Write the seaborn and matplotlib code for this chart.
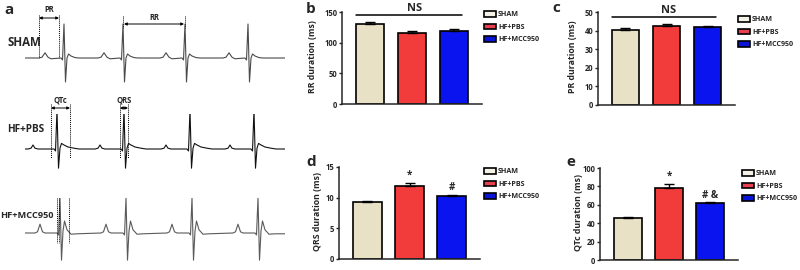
import numpy as np
import matplotlib
matplotlib.use("Agg")
import matplotlib.pyplot as plt
from matplotlib.patches import Patch
import seaborn as sns

# groups and colours
groups = ["SHAM", "HF+PBS", "HF+MCC950"]
bar_colors = ["#e8e1c6", "#f23c3c", "#0a14ee"]
legend_colors = ["#f4f1e6", "#e84050", "#0a14d8"]

# bar chart values (mean, SEM)
rr_mean = [130, 116, 119]
rr_err = [4, 3, 4]
pr_mean = [40.3, 42.5, 42.1]
pr_err = [0.9, 1.3, 0.5]
qrs_mean = [9.25, 11.9, 10.3]
qrs_err = [0.15, 0.5, 0.2]
qtc_mean = [45.5, 78.5, 61.6]
qtc_err = [1.5, 4.5, 1.0]
qrs_marks = ["", "*", "#"]
qtc_marks = ["", "*", "# &"]

# ECG traces: R-peak times (ms) and a beat shape (ms from R, mV)
sham_r = [78, 196, 320, 446]
sham_bt = [-50, -44, -38, -32, -26, -6, -3, 0, 3, 6, 9, 14, 22, 30]
sham_bv = [0, 0.02, 0.13, 0.02, -0.02, 0, -0.05, 0.85, -0.6, 0.0, 0.1, 0.05, 0.01, 0]

pbs_r = [64, 198, 330, 458]
pbs_bt = [-58, -52, -48, -44, -38, -6, -3, 0, 3, 6, 9, 14, 22, 34, 44]
pbs_bv = [0, 0.02, 0.1, 0.02, 0, 0, -0.05, 0.98, -0.48, 0.02, 0.14, 0.1, 0.05, 0.02, 0]

mcc_r = [70, 202, 334, 466]
mcc_bt = [-50, -45, -40, -35, -30, -6, -3, 0, 3, 6, 9, 14, 22, 34]
mcc_bv = [0, 0.03, 0.22, 0.03, 0, 0, -0.05, 0.88, -0.68, 0.05, 0.3, 0.08, -0.03, -0.02]

trace_end = 520

sns.set_style("ticks")
plt.rcParams["font.family"] = ["Open Sans", "DejaVu Sans"]
plt.rcParams["font.weight"] = "bold"

W, H = 800, 270
fig = plt.figure(figsize=(8, 2.7), dpi=100)


def px_rect(l, t, r, b):
    return [l / W, 1 - b / H, (r - l) / W, (b - t) / H]


# overlay for panel letters / row labels
ov = fig.add_axes([0, 0, 1, 1])
ov.set_xlim(0, W)
ov.set_ylim(H, 0)
ov.axis("off")
for s, x, y in [("a", 9, 10), ("b", 311, 9), ("c", 556, 8), ("d", 311, 162), ("e", 571, 162)]:
    ov.text(x, y, s, fontsize=11, fontweight="bold", ha="center", va="center")
ov.text(8, 42, "SHAM", fontsize=8.3, fontweight="bold", va="center")
ov.text(7, 130, "HF+PBS", fontsize=7.2, fontweight="bold", va="center")
ov.text(0, 216, "HF+MCC950", fontsize=6.6, fontweight="bold", va="center")


def build_trace(r_times, bt, bv):
    t = [0]
    v = [0]
    for r in r_times:
        t += [r + o for o in bt]
        v += list(bv)
    t.append(trace_end)
    v.append(v[-1])
    return t, v


def trace_axes(top, color, r_times, bt, bv):
    ax = fig.add_axes(px_rect(25, top, 285, top + 70))
    t, v = build_trace(r_times, bt, bv)
    sns.lineplot(x=t, y=v, ax=ax, color=color, lw=0.8, sort=False, estimator=None)
    ax.set_xlim(0, trace_end)
    ax.set_ylim(-0.875, 0.875)
    ax.axis("off")
    return ax


def vdots(ax, xs, y0, y1):
    for x in xs:
        ax.plot([x, x], [y0, y1], ls=(0, (1, 1)), color="black", lw=0.7, clip_on=False)


def harrow(ax, x0, x1, y, label, ly):
    ax.annotate("", xy=(x1, y), xytext=(x0, y),
                arrowprops=dict(arrowstyle="<|-|>", lw=0.7, mutation_scale=4,
                                color="black", shrinkA=0, shrinkB=0),
                annotation_clip=False)
    ax.text((x0 + x1) / 2, ly, label, fontsize=5.5, fontweight="bold",
            ha="center", va="center")


ax_s = trace_axes(23, "#4a4a4a", sham_r, sham_bt, sham_bv)
vdots(ax_s, [28, 68], 1.075, 0)
harrow(ax_s, 28, 68, 1.0, "PR", 1.2)
vdots(ax_s, [196, 320], 1.05, 0.75)
harrow(ax_s, 198, 318, 0.85, "RR", 1.02)

ax_p = trace_axes(114, "#111111", pbs_r, pbs_bt, pbs_bv)
vdots(ax_p, [52, 90, 190, 206], 1.125, -0.225)
harrow(ax_p, 52, 90, 1.025, "QTc", 1.225)
harrow(ax_p, 190, 206, 1.025, "QRS", 1.225)

ax_m = trace_axes(198, "#5a5a5a", mcc_r, mcc_bt, mcc_bv)
vdots(ax_m, [64, 68, 88], 0.875, -0.25)


def bar_panel(rect, means, errs, ylim, step, ylabel, label_x, leg_xy,
              marks=None, ns_y=None):
    ax = fig.add_axes(px_rect(*rect))
    sns.barplot(x=groups, y=means, hue=groups, palette=bar_colors, legend=False,
                saturation=1, width=0.68, edgecolor="black", linewidth=1.2, ax=ax)
    ax.errorbar(groups, means, yerr=[np.zeros(len(errs)), errs], fmt="none",
                ecolor="black", elinewidth=1, capsize=3.5, capthick=1)
    ax.set_xlim(-0.67, 2.67)
    ax.set_ylim(0, ylim)
    ax.set_yticks(np.arange(0, ylim + step / 2, step))
    ax.set_xticks([])
    sns.despine(ax=ax)
    for sp in ["left", "bottom"]:
        ax.spines[sp].set_linewidth(1.1)
    ax.tick_params(axis="y", length=2.5, width=1, pad=1, labelsize=5.5)
    for lb in ax.get_yticklabels():
        lb.set_fontweight("bold")
    ax.set_ylabel(ylabel, fontsize=6.3, fontweight="bold")
    ax.yaxis.set_label_coords(label_x, 0.52)
    if marks:
        for i, m in enumerate(marks):
            if m:
                ax.text(i, means[i] + errs[i] + ylim * 0.02, m, fontsize=7,
                        fontweight="bold", ha="center", va="bottom")
    if ns_y is not None:
        ax.plot([-0.34, 2.2], [ns_y, ns_y], color="black", lw=1.1, clip_on=False)
        ax.text(1.05, ns_y + ylim * 0.01, "NS", fontsize=8, fontweight="bold",
                ha="center", va="bottom")
    handles = [Patch(facecolor=c, edgecolor="black", linewidth=1.2) for c in legend_colors]
    ax.legend(handles, groups, loc="upper left",
              bbox_to_anchor=(leg_xy[0] / W, 1 - leg_xy[1] / H),
              bbox_transform=fig.transFigure, frameon=False, borderpad=0,
              borderaxespad=0, handlelength=1.7, handleheight=0.85,
              handletextpad=0.3, labelspacing=0.75,
              prop=dict(size=5.1, weight="bold"))
    return ax


bar_panel((342, 12, 482, 104), rr_mean, rr_err, 150, 50, "RR duration (ms)",
          -0.18, (484, 11), ns_y=145)
bar_panel((598, 12, 735, 105), pr_mean, pr_err, 50, 10, "PR duration (ms)",
          -0.155, (738, 16), ns_y=47.1)
bar_panel((339, 167, 480, 259), qrs_mean, qrs_err, 15, 5, "QRS duration (ms)",
          -0.12, (484, 168), marks=qrs_marks)
bar_panel((600, 168, 738, 260), qtc_mean, qtc_err, 100, 20, "QTc duration (ms)",
          -0.12, (742, 170), marks=qtc_marks)

fig.savefig("out.png", dpi=100)
